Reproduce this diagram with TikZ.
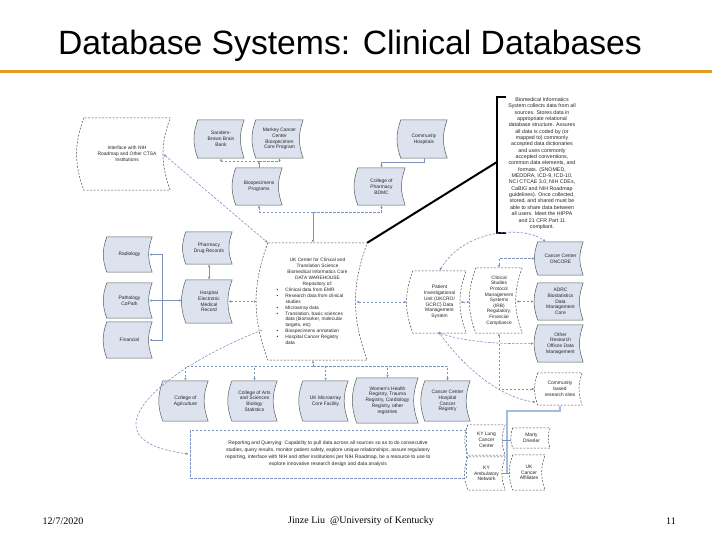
\documentclass[tikz,border=0pt]{standalone}
\usepackage{fontspec}
\setmainfont{Liberation Sans}
\newfontfamily\serifft{Liberation Serif}
\usetikzlibrary{arrows.meta,calc,backgrounds}
\definecolor{boxfill}{HTML}{DCE3EF}
\definecolor{boxdraw}{HTML}{5A5A5A}
\definecolor{lnc}{HTML}{7D93BC}
\definecolor{orangeline}{HTML}{E39D22}
\definecolor{thickblue}{HTML}{A5BAE0}
\newcommand\tapeshape[2]{\draw[#2] (#1.north west) to[bend right=20] (#1.south west) -- (#1.south east) to[bend left=20] (#1.north east) -- cycle;}
\newcommand\bul{\noindent\hangindent=10pt\hangafter=1\makebox[10pt][l]{\hspace{1pt}\textbullet}}
\begin{document}
\begin{tikzpicture}[x=1pt,y=-1pt,
  txt/.style={font=\fontsize{4.9}{5.8}\selectfont, align=center, inner sep=0pt, text=black!85},
  solidshape/.style={draw=boxdraw, fill=boxfill, line width=0.5pt},
  dashshape/.style={draw=black!70, fill=white, line width=0.5pt, dash pattern=on 2pt off 1.5pt},
  ln/.style={draw=lnc, line width=0.6pt},
  dl/.style={ln, dash pattern=on 2.5pt off 1.5pt},
  >={Latex[length=3pt,width=2.6pt]},
  dot/.style={circle, fill=lnc, inner sep=0pt, minimum size=3pt}]
\useasboundingbox (0,0) rectangle (720,540);
% title
\node[font=\fontsize{33.7}{36}\selectfont, inner sep=0pt] (title) at (350,46) {Database Systems: Clinical Databases};
\draw[orangeline, line width=3pt] (0,72) -- (712,72);
% nodes
\node[txt, minimum width=86, minimum height=72] (intf) at (127,154) {Interface with NIH\\Roadmap and Other CTSA\\Institutions};
\node[txt, minimum width=46, minimum height=38] (sand) at (221,139) {Sanders-\\Brown Brain\\Bank};
\node[txt, minimum width=47, minimum height=38] (mark) at (279.5,139) {Markey Cancer\\Center\\Biospecimen\\Core Program};
\node[txt, minimum width=46, minimum height=38] (comm) at (424,139) {Community\\Hospitals};
\node[txt, minimum width=46, minimum height=37] (bio) at (259,186.5) {Biospecimens\\Programs};
\node[txt, minimum width=47, minimum height=37] (cph) at (381.5,186.5) {College of\\Pharmacy\\BDMC};
\node[txt, minimum width=45, minimum height=35] (rad) at (129.5,254.5) {Radiology};
\node[txt, minimum width=45, minimum height=35] (path) at (129.5,300.5) {Pathology\\CoPath};
\node[txt, minimum width=45, minimum height=36] (fin) at (129.5,340) {Financial};
\node[txt, minimum width=46, minimum height=32] (pharm) at (209,248) {Pharmacy\\Drug Records};
\node[txt, minimum width=46, minimum height=43] (hosp) at (209,301.5) {Hospital\\Electronic\\Medical\\Record};
\node[txt, minimum width=99, minimum height=117] (ukc) at (317.5,301.5) {\begin{minipage}{84pt}\fontsize{4.8}{5.9}\selectfont\centering
UK Center for Clinical and\\Translation Science\\Biomedical Informatics Core\\DATA WAREHOUSE\\Repository of:\par\raggedright
\bul Clinical data from EMR\par
\bul Research data from clinical\newline studies\par
\bul Microarray data\par
\bul Translation, basic sciences\newline data (biomarker, molecular\newline targets, etc)\par
\bul Biospecimens annotation\par
\bul Hospital Cancer Registry\newline data\par
\end{minipage}};
\node[txt, minimum width=53, minimum height=62] (piu) at (439.5,302) {Patient\\Investigational\\Unit (UKCRO/\\GCRC) Data\\Management\\System};
\node[txt, minimum width=46, minimum height=65, font=\fontsize{4.8}{5.6}\selectfont] (clin) at (499,300.5) {Clinical\\Studies\\Protocol\\Management\\Systems\\(IRB)\\Regulatory,\\Financial\\Compliance};
\node[txt, minimum width=45, minimum height=33] (onc) at (560.5,258.5) {Cancer Center\\ONCORE};
\node[txt, minimum width=45, minimum height=37] (adrc) at (560.5,301.5) {ADRC\\Biostatistics\\Data\\Management\\Core};
\node[txt, minimum width=45, minimum height=37] (oth) at (560.5,343.5) {Other\\Research\\Offices Data\\Management};
\node[txt, minimum width=44, minimum height=32] (cbr) at (560,389) {Community\\based\\research sites};
\node[txt, minimum width=45, minimum height=40] (agr) at (185.5,401) {College of\\Agriculture};
\node[txt, minimum width=45, minimum height=40] (arts) at (254.5,401) {College of Arts\\and Sciences\\Biology\\Statistics};
\node[txt, minimum width=45, minimum height=40] (micro) at (325.5,401) {UK Microarray\\Core Facility};
\node[txt, minimum width=61, minimum height=45] (women) at (387.5,400.5) {Women's Health\\Registry, Trauma\\Registry, Cardiology\\Registry, other\\registries};
\node[txt, minimum width=45, minimum height=40] (cchr) at (447.5,401) {Cancer Center\\Hospital\\Cancer\\Registry};
\node[txt, draw=lnc, line width=0.5pt, dash pattern=on 2.5pt off 1.5pt, minimum width=276, minimum height=48, font=\fontsize{5}{7}\selectfont] (rep) at (328,454) {Reporting and Querying: Capability to pull data across all sources so as to do consecutive\\studies, query results, monitor patient safety, explore unique relationships, assure regulatory\\reporting, interface with NIH and other institutions per NIH Roadmap, be a resource to use to\\explore innovative research design and data analysis};
\node[txt, minimum width=37, minimum height=30] (kyl) at (486.5,440) {KY Lung\\Cancer\\Center};
\node[txt, minimum width=37, minimum height=20] (mar) at (531.5,438) {Marty\\Driesler};
\node[txt, minimum width=37, minimum height=33] (kya) at (486.5,473.5) {KY\\Ambulatory\\Network};
\node[txt, minimum width=32, minimum height=35] (uka) at (529,472.5) {UK\\Cancer\\Affiliates};
\node[txt, font=\fontsize{5.3}{6.35}\selectfont] (bmi) at (542,163.5) {Biomedical Informatics\\System collects data from all\\sources. Stores data in\\appropriate relational\\database structure. Assures\\all data is coded by (or\\mapped to) commonly\\accepted data dictionaries\\and uses commonly\\accepted conventions,\\common data elements, and\\formats. (SNOMED,\\MEDDRA, ICD-9, ICD-10,\\NCI CTCAE 3.0, NIH CDEs,\\CaBIG and NIH Roadmap\\guidelines). Once collected,\\stored, and shared must be\\able to share data between\\all users. Meet the HIPPA\\and 21 CFR Part 11\\compliant.};
% shapes
\begin{scope}[on background layer]
\fill[white] (0,0) rectangle (720,540);
\foreach \n in {sand,mark,comm,bio,cph,rad,path,fin,pharm,hosp,onc,adrc,oth,agr,arts,micro,women,cchr}
  {\tapeshape{\n}{solidshape}}
\foreach \n in {intf,ukc,piu,clin,cbr,kyl,mar,kya,uka}
  {\tapeshape{\n}{dashshape}}
\end{scope}
% coordinates
\coordinate (j1) at (259,161);
\coordinate (j2) at (313,212);
\coordinate (c1) at (424,162);
\coordinate (vx) at (162,300.5);
\coordinate (hb) at (313,366);
\coordinate (brk) at (497,162);
\coordinate (bl) at (507,411);
\coordinate (bb) at (507,473);
% top cluster
\draw[dl,->] (j1) -| (sand.south);
\draw[dl,->] (j1) -| (mark.south);
\draw[dl,->] (bio.north) -- (j1);
\draw[dl,->] (j2) -| (bio.south);
\draw[dl,->] (j2) -| (cph.south);
\draw[ln,->] (j2) -- (ukc.north -| j2);
\draw[ln,->] (comm.south) -- (comm.south |- c1) -| (cph.north);
\draw[dl,<->] ($(intf.east)+(-7,0)$) -- (ukc.north west);
% black callout
\draw[line width=2pt] (ukc.north east) -- (brk);
\draw[line width=2pt] (506,97) -- (497,97) -- (497,233) -- (506,233);
% left cluster
\draw[ln,<->] ($(path.east)+(-3,0)$) -- ($(hosp.west |- path.east)+(-4,0)$);
\draw[ln,->] (vx) |- ($(rad.east)+(-3,0)$);
\draw[ln,->] (vx) |- ($(fin.east)+(-3,0)$);
\draw[ln,<->] (pharm.south) -- (hosp.north);
\draw[dl,<->] ($(hosp.east)+(-4,0)$) -- ($(ukc.west |- hosp.east)+(-11,0)$);
% right cluster
\draw[dl,<->] ($(ukc.east |- piu.west)+(-11,0)$) -- ($(piu.west)+(-6,0)$);
\draw[dl,<->] ($(piu.east)+(-6,0)$) -- ($(clin.west |- piu.east)+(-6,0)$);
\draw[dl,<->] (clin.north) |- ($(onc.west)+(-3,0)$);
\draw[dl,<->] ($(clin.east |- adrc.west)+(-6,0)$) -- ($(adrc.west)+(-4,0)$);
\draw[dl,<->] (clin.south) |- ($(cbr.west)+(-3,0)$);
\draw[dl,<->] (piu.north) .. controls (465,228) and (525,226) .. ($(onc.north west)+(8,0)$);
\node[dot] (pdot) at (piu.south) {};
\draw[dl,->] (pdot) .. controls (470,343) and (505,344) .. ($(oth.west)+(-4,0)$);
\draw[dl,->] (pdot) .. controls (470,375) and (505,398) .. ($(cbr.south west)+(-2,-3)$);
% bottom row
\draw[dl,->] (hb) -- (ukc.south -| hb);
\draw[dl,->] (hb) -| (agr.north);
\draw[dl,->] (hb) -| (arts.north);
\draw[dl,->] (hb) -| (micro.north);
\draw[dl,->] (hb) -| (women.north);
\draw[dl,->] (hb) -| (cchr.north);
\draw[dl,->] ($(ukc.south west)+(-6,-30)$) .. controls (160,370) and (80,440) .. ($(rep.west)+(-1,0)$);
% affiliates
\draw[thickblue, line width=1.6pt, -{Latex[length=3pt,width=3pt]}] (bb) -- (bl) -| (cbr.south);
\draw[ln] ($(kyl.east)+(-3,0)$) -- ($(mar.west |- kyl.east)+(-2,0)$);
\draw[ln] ($(kya.east)+(-3,0)$) -- ($(uka.west |- kya.east)+(-3,0)$);
% footer
\node[font=\serifft\fontsize{10}{12}\selectfont, inner sep=0pt] (date) at (63,521) {12/7/2020};
\node[font=\serifft\fontsize{10}{12}\selectfont, inner sep=0pt] (auth) at (361,521) {Jinze Liu\ \ @University of Kentucky};
\node[font=\serifft\fontsize{10}{12}\selectfont, inner sep=0pt] (pg) at (671,521) {11};
\end{tikzpicture}
\end{document}
